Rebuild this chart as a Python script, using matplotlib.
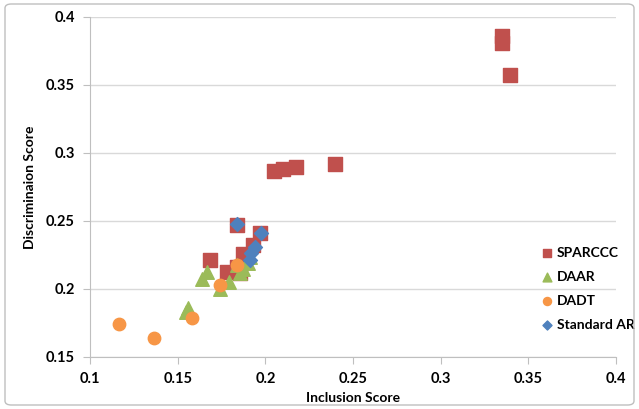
import matplotlib.pyplot as plt
from matplotlib.patches import FancyBboxPatch

# Данні
sparccc_x = [0.335, 0.335, 0.3396, 0.205, 0.210, 0.2175, 0.240,
             0.184, 0.197, 0.1685, 0.193, 0.187, 0.178, 0.184, 0.1855]
sparccc_y = [0.386, 0.381, 0.357, 0.2868, 0.288, 0.2897, 0.2919,
             0.247, 0.241, 0.221, 0.232, 0.226, 0.2125, 0.216, 0.212]

daar_x = [0.167, 0.164, 0.156, 0.155, 0.174, 0.179, 0.190, 0.187, 0.191, 0.1856, 0.184]
daar_y = [0.2125, 0.207, 0.186, 0.183, 0.200, 0.205, 0.219, 0.215, 0.2235, 0.212, 0.218]

dadt_x = [0.1165, 0.1365, 0.158, 0.174, 0.184]
dadt_y = [0.174, 0.164, 0.1787, 0.203, 0.2176]

std_x = [0.184, 0.1974, 0.194, 0.192, 0.191]
std_y = [0.2478, 0.241, 0.231, 0.2265, 0.221]

x_ticks = [0.1, 0.15, 0.2, 0.25, 0.3, 0.35, 0.4]
y_ticks = [0.15, 0.2, 0.25, 0.3, 0.35, 0.4]

plt.rcParams['font.family'] = ['Lato', 'DejaVu Sans']

fig = plt.figure(figsize=(6.39, 4.09), dpi=100)
ax = fig.add_axes([90 / 639, 1 - 357 / 409, 526 / 639, 340 / 409])

ax.scatter(sparccc_x, sparccc_y, marker='s', s=90, color='#C0504D', label='SPARCCC', zorder=3)
ax.scatter(daar_x, daar_y, marker='^', s=95, color='#9BBB59', label='DAAR', zorder=4)
ax.scatter(dadt_x, dadt_y, marker='o', s=80, color='#F79646', label='DADT', zorder=5)
ax.scatter(std_x, std_y, marker='D', s=50, color='#4F81BD', label='Standard AR', zorder=6)

ax.set_xlim(0.1, 0.4)
ax.set_ylim(0.15, 0.4)
ax.set_xticks(x_ticks)
ax.set_yticks(y_ticks)
ax.set_xticklabels([f'{v:g}' for v in x_ticks], fontweight='bold', fontsize=10.5)
ax.set_yticklabels([f'{v:g}' for v in y_ticks], fontweight='bold', fontsize=10.5)

ax.grid(axis='y', color='#D9D9D9', linewidth=1)
ax.set_axisbelow(True)
for side in ['top', 'right']:
    ax.spines[side].set_visible(False)
for side in ['left', 'bottom']:
    ax.spines[side].set_color('#BFBFBF')
ax.tick_params(length=5, color='#BFBFBF', pad=6)

ax.set_xlabel('Inclusion Score', fontweight='bold', fontsize=10, labelpad=4)
ax.set_ylabel('Discriminaion Score', fontweight='bold', fontsize=10, labelpad=7)

leg = ax.legend(loc='upper left', bbox_to_anchor=(0.83, 0.36), frameon=False,
                fontsize=10, handletextpad=0.1, labelspacing=0.85,
                markerscale=0.65, handlelength=1.2)
for t in leg.get_texts():
    t.set_fontweight('bold')

# Рамка навколо діаграми
frame = FancyBboxPatch((5 / 639, 4 / 409), 629 / 639, 401 / 409,
                       boxstyle='round,pad=0,rounding_size=0.01',
                       transform=fig.transFigure, fill=False,
                       edgecolor='#BFBFBF', linewidth=1)
fig.patches.append(frame)

fig.savefig('out.png', dpi=100)
